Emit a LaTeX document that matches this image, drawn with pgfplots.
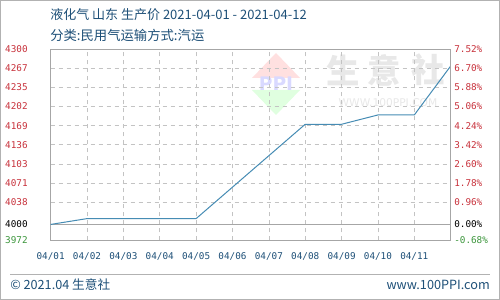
\documentclass[border=0pt]{standalone}
\usepackage{fontspec}
\usepackage{pgfplots}
\pgfplotsset{compat=1.18}
\setmainfont{DejaVu Sans}
\newfontfamily\cjk{Noto Sans CJK SC}
\newfontfamily\mono{DejaVu Sans Mono}
\definecolor{titleblue}{RGB}{30,80,120}
\definecolor{tickred}{RGB}{200,50,60}
\definecolor{tickgreen}{RGB}{60,150,60}
\definecolor{linec}{RGB}{70,140,180}
\definecolor{gridc}{RGB}{195,195,195}
\definecolor{wm}{RGB}{232,232,232}
\begin{document}
\begin{tikzpicture}
\useasboundingbox (0,0) rectangle (375pt,225pt);
\fill[white] (0,0) rectangle (375pt,225pt);
\draw[gray!60, line width=0.75pt] (0.375pt,0.375pt) rectangle (374.625pt,224.625pt);
% titles
\node[anchor=west, inner sep=0, text=titleblue, font=\cjk\fontsize{9.75}{11}\selectfont] at (37.5pt,213.75pt) {液化气 山东 生产价 2021-04-01 - 2021-04-12};
\node[anchor=west, inner sep=0, text=titleblue, font=\cjk\fontsize{10}{11}\selectfont] at (37.5pt,198.75pt) {分类:民用气运输方式:汽运};
% watermark
\fill[red!12] (207pt,185.25pt) -- (225pt,166.5pt) -- (189pt,166.5pt) -- cycle;
\fill[green!12] (207pt,138.75pt) -- (225pt,157.5pt) -- (189pt,157.5pt) -- cycle;
\node[text=blue!15, font=\bfseries\fontsize{14}{14}\selectfont] at (207pt,162pt) {PPI};
\node[text=wm, font=\cjk\bfseries\fontsize{25}{25}\selectfont] at (257pt,172.5pt) {生};
\node[text=wm, font=\cjk\bfseries\fontsize{25}{25}\selectfont] at (288pt,172.5pt) {意};
\node[text=wm, font=\cjk\bfseries\fontsize{25}{25}\selectfont] at (321pt,172.5pt) {社};
\node[text=wm, font=\fontsize{8}{8}\selectfont] at (291pt,147.75pt) {WWW.100PPI.COM};
% footer
\draw[gray!60, line width=0.75pt] (7.5pt,18.75pt) -- (367.5pt,18.75pt);
\node[anchor=west, inner sep=0, text=titleblue, font=\cjk\fontsize{9.5}{11}\selectfont] at (7.5pt,11.25pt) {© 2021.04 生意社};
\node[anchor=east, inner sep=0, text=titleblue, font=\cjk\fontsize{9.5}{11}\selectfont] at (367.5pt,11.25pt) {www.100PPI.com};
\begin{axis}[
  at={(38pt,44.8pt)}, anchor=south west,
  width=300pt, height=143.25pt, scale only axis,
  xmin=0, xmax=11, ymin=3972.8, ymax=4300.8,
  xtick={0,...,10},
  xticklabels={04/01,04/02,04/03,04/04,04/05,04/06,04/07,04/08,04/09,04/10,04/11},
  ytick={3972.8,4038.4,4071.2,4104,4136.8,4169.6,4202.4,4235.2,4268,4300.8},
  yticklabels={\textcolor{tickgreen}{3972},\textcolor{tickred}{4038},\textcolor{tickred}{4071},\textcolor{tickred}{4103},\textcolor{tickred}{4136},\textcolor{tickred}{4169},\textcolor{tickred}{4202},\textcolor{tickred}{4235},\textcolor{tickred}{4267},\textcolor{tickred}{4300}},
  extra y ticks={4000}, extra y tick labels={4000},
  extra y tick style={grid=major, major grid style={solid, gray!70, line width=0.75pt}},
  grid=major, major grid style={dashed, gridc, line width=0.5pt},
  axis line style={gray!70, line width=0.75pt},
  major tick length=0,
  tick label style={font=\mono\fontsize{7}{8}\selectfont},
  xticklabel style={text=titleblue, anchor=center, inner sep=0, yshift=-12.3pt},
  yticklabel style={anchor=west, inner sep=0, xshift=-34.3pt},
]
\addplot[linec, line width=0.75pt] coordinates {(0,4000)(1,4010)(4,4010)(7,4172)(8,4172)(9,4188)(10,4188)(11,4272)};
\end{axis}
\begin{axis}[
  at={(38pt,44.8pt)}, anchor=south west,
  width=300pt, height=143.25pt, scale only axis,
  xmin=0, xmax=11, ymin=-0.68, ymax=7.52,
  hide x axis, axis y line*=right,
  axis line style={gray!70, line width=0.75pt},
  major tick length=0,
  ytick={-0.68,0,0.96,1.78,2.60,3.42,4.24,5.06,5.88,6.70,7.52},
  yticklabels={\textcolor{tickgreen}{-0.68\%},0.00\%,\textcolor{tickred}{0.96\%},\textcolor{tickred}{1.78\%},\textcolor{tickred}{2.60\%},\textcolor{tickred}{3.42\%},\textcolor{tickred}{4.24\%},\textcolor{tickred}{5.06\%},\textcolor{tickred}{5.88\%},\textcolor{tickred}{6.70\%},\textcolor{tickred}{7.52\%}},
  yticklabel style={anchor=west, inner sep=0, xshift=2.5pt, font=\mono\fontsize{7}{8}\selectfont},
]
\end{axis}
\end{tikzpicture}
\end{document}
